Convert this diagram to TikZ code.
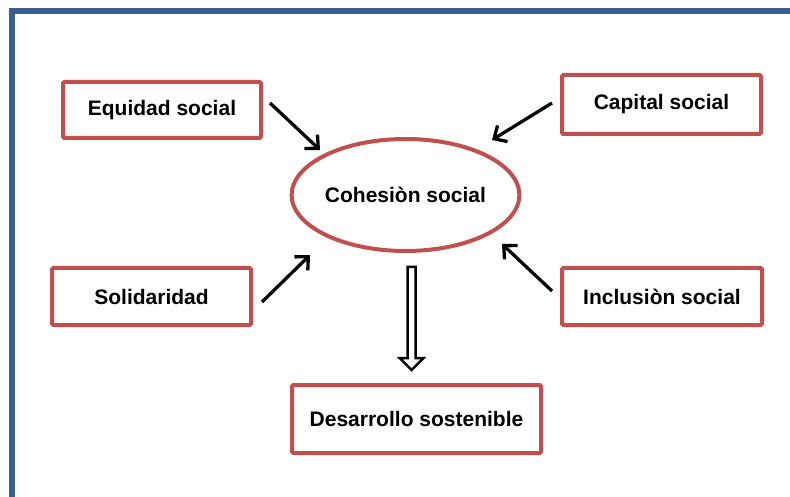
\documentclass[tikz,border=0pt]{standalone}
\usepackage{fontspec}
\setmainfont{Liberation Sans}
\usetikzlibrary{positioning}
\usetikzlibrary{arrows.meta,shapes}
\usetikzlibrary{calc}
\definecolor{boxred}{RGB}{192,80,77}
\definecolor{frameblue}{RGB}{58,95,140}
\tikzstyle{conceptbox}=[rectangle,draw=boxred,line width=4pt,rounded corners=1.5pt,fill=white,inner sep=0pt,font=\fontsize{21}{25}\selectfont\bfseries]
\tikzstyle{centralellipse}=[ellipse,draw=boxred,line width=4pt,inner sep=0pt,minimum width=219pt,minimum height=112pt,font=\fontsize{21}{25}\selectfont\bfseries]
\tikzstyle{edge} = [draw,line width=3.3pt,-{Straight Barb[length=10pt,width=19pt]}]
\tikzstyle{hollowarrow} = [draw,line width=2.5pt,fill=white,line join=miter]
\tikzstyle{frameline} = [draw=frameblue,line width=5.5pt]

\begin{document}
\begin{tikzpicture}[x=1pt,y=-1pt]

  \useasboundingbox (0,0) rectangle (790,497);
  \path[frameline] (12,497) -- (12,11) -- (790,11);

  \node[centralellipse] (coh) at (405.5,195) {Cohesiòn social};

  \foreach \x/\y/\w/\h/\name/\label in {162/110/198/56/eq/Equidad social, 661.5/104.5/199/59/cap/Capital social, 151.5/296.5/199/57/sol/Solidaridad, 662/296.5/200/57/inc/Inclusiòn social, 416.5/419/249/68/des/Desarrollo sostenible}
         \node[conceptbox,minimum width=\w pt,minimum height=\h pt] (\name) at (\x,\y) {\label};

  % arrow ends
  \foreach \x/\y/\name in {270/103/eqout, 320/150/eqin, 552/103/capout, 492/140/capin, 262/302/solout, 310/255/solin, 552/291/incout, 502/244/incin}
         \coordinate (\name) at (\x,\y);

  \foreach \source/\dest in {eqout/eqin, capout/capin, solout/solin, incout/incin}
         \path[edge] (\source) -- (\dest);

  % hollow arrow down
  \coordinate (dtop) at (411.7,267);
  \coordinate (dtip) at (411.7,370);
  \path[hollowarrow] ($(dtop)+(-4,0)$) -- ($(dtop)+(4,0)$) -- ($(dtip)+(4,-12)$) -- ($(dtip)+(12,-12)$) -- (dtip) -- ($(dtip)+(-12,-12)$) -- ($(dtip)+(-4,-12)$) -- cycle;

\end{tikzpicture}
\end{document}
